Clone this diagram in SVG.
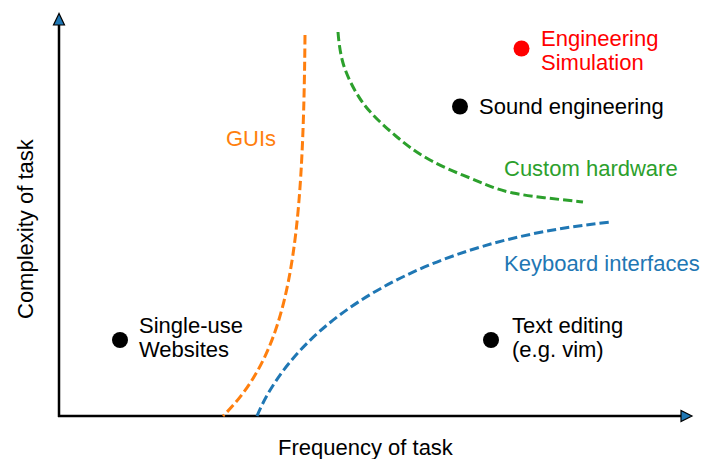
<svg xmlns="http://www.w3.org/2000/svg" width="705" height="459" viewBox="0 0 705 459">
  <style>
    text { font-family: "Liberation Sans", Arial, sans-serif; font-size: 22px; fill: #000; }
    .axis { stroke: #000; stroke-width: 2.5; fill: none; }
    .head { fill: #1f77b4; stroke: #000; stroke-width: 1.2; stroke-linejoin: miter; }
    .curve { fill: none; stroke-width: 3; stroke-dasharray: 9.25 4; }
    .dot { fill: #000; }
  </style>

  <!-- axes -->
  <g id="axes">
    <line class="axis" x1="59" y1="417" x2="59" y2="25"/>
    <line class="axis" x1="58" y1="416" x2="681" y2="416"/>
    <polygon class="head" points="59,13.5 53.5,25 64.5,25"/>
    <polygon class="head" points="692,416 681,410.5 681,421.5"/>
    <text x="278" y="455">Frequency of task</text>
    <text transform="translate(33,319) rotate(-90)">Complexity of task</text>
  </g>

  <!-- region boundaries -->
  <g id="connectors">
    <path class="curve" stroke="#ff7f0e" d="M305,35 C303,250 290,350 223,416"/>
    <path class="curve" stroke="#2ca02c" d="M338,32 C338.8,42 340,52 343,63 C346.5,75 354,90.7 363,103 C372,115.3 385.8,127.5 397,137 C408.2,146.5 417.8,153.2 430,160 C442.2,166.8 456.2,172.5 470,178 C483.8,183.5 494.2,189 513,193 C531.8,197 571.3,200.5 583,202"/>
    <path class="curve" stroke="#1f77b4" d="M257,416 C298,318 425,240 612,222"/>
  </g>

  <!-- region labels -->
  <g id="label-guis"><text x="226" y="146" style="fill:#ff7f0e">GUIs</text></g>
  <g id="label-custom-hardware"><text x="504" y="176" style="fill:#2ca02c">Custom hardware</text></g>
  <g id="label-keyboard"><text x="504" y="271" style="fill:#1f77b4">Keyboard interfaces</text></g>

  <!-- task examples -->
  <g id="node-engineering-simulation">
    <circle cx="521.5" cy="48.5" r="8" fill="#ff0000"/>
    <text x="541" y="46" style="fill:#ff0000">Engineering</text>
    <text x="541" y="70" style="fill:#ff0000">Simulation</text>
  </g>
  <g id="node-sound-engineering">
    <circle class="dot" cx="460" cy="106.5" r="8"/>
    <text x="479" y="113.5">Sound engineering</text>
  </g>
  <g id="node-single-use">
    <circle class="dot" cx="120" cy="340" r="8"/>
    <text x="139" y="333">Single-use</text>
    <text x="139" y="357">Websites</text>
  </g>
  <g id="node-text-editing">
    <circle class="dot" cx="491" cy="340" r="8"/>
    <text x="512" y="333">Text editing</text>
    <text x="512" y="357">(e.g. vim)</text>
  </g>
</svg>
